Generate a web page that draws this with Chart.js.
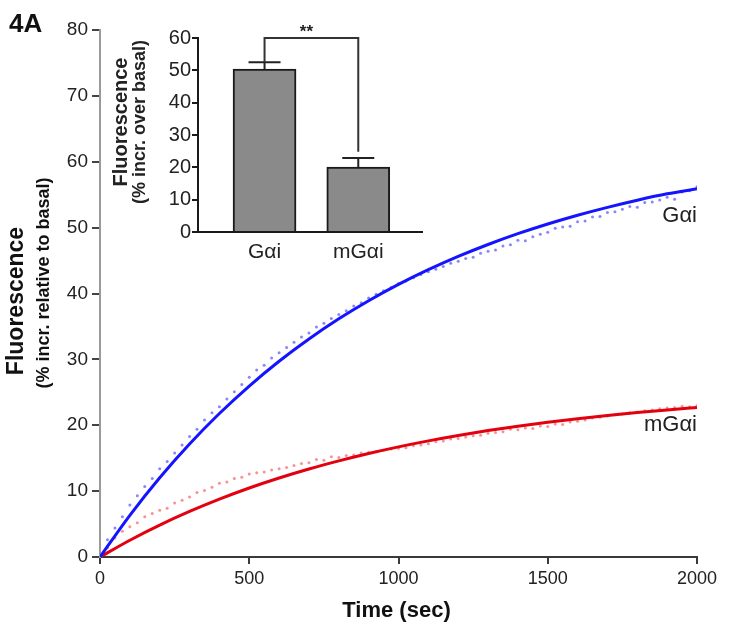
<!DOCTYPE html>
<html>
<head>
<meta charset="utf-8">
<script src="https://cdn.jsdelivr.net/npm/chart.js@4/dist/chart.umd.min.js"></script>
<style>
  body { margin: 0; background: #fff; }
  #wrap { position: relative; width: 729px; height: 636px; }
  #mainChart { position: absolute; left: 0; top: 0; }
  #insetChart { position: absolute; left: 100px; top: 0; }
</style>
</head>
<body>
<div id="wrap">
  <canvas id="mainChart" width="729" height="636"></canvas>
  <canvas id="insetChart" width="340" height="275"></canvas>
</div>
<script>
// main panel: raw readings (sec, % incr.)
const sampleTimes = [0, 25, 50, 75, 100, 125, 150, 175, 200, 225, 250, 275, 300, 325, 350, 375, 400, 425, 450, 475,
  500, 525, 550, 575, 600, 625, 650, 675, 700, 725, 750, 775, 800, 825, 850, 875, 900, 925, 950, 975,
  1000, 1025, 1050, 1075, 1100, 1125, 1150, 1175, 1200, 1225, 1250, 1275, 1300, 1325, 1350, 1375, 1400, 1425, 1450, 1475,
  1500, 1525, 1550, 1575, 1600, 1625, 1650, 1675, 1700, 1725, 1750, 1775, 1800, 1825, 1850, 1875, 1900, 1925, 1950, 1975, 2000];

const gaiPoints = [0.2, 2.6, 4.4, 6.1, 7.9, 9.3, 10.7, 11.9, 13.4, 14.5, 15.8, 17.0, 18.3, 19.4, 20.8, 21.9, 22.8, 24.0, 25.1, 26.2,
  27.3, 28.4, 29.1, 30.2, 31.0, 31.8, 32.6, 33.4, 34.0, 34.9, 35.5, 36.2, 36.8, 37.4, 38.1, 38.6, 39.3, 39.9, 40.4, 40.9,
  41.5, 41.9, 42.4, 42.9, 43.3, 43.7, 44.1, 44.6, 44.9, 45.3, 45.5, 46.1, 46.4, 46.6, 47.2, 47.4, 48.1, 48.0, 48.6, 49.0,
  49.3, 49.9, 50.1, 50.2, 50.9, 51.0, 51.6, 51.7, 52.3, 52.4, 52.8, 53.2, 53.1, 53.8, 53.9, 54.2, 54.6, 54.3, 55.4, 55.6, 56.2];

const mgaiPoints = [0.3, 1.4, 2.9, 3.9, 4.6, 5.2, 6.1, 6.6, 7.1, 7.4, 8.2, 8.6, 9.1, 9.8, 10.1, 10.6, 11.2, 11.4, 11.9, 12.1,
  12.6, 12.8, 12.9, 13.2, 13.4, 13.6, 13.9, 14.2, 14.3, 14.8, 14.7, 15.2, 15.1, 15.4, 15.5, 15.8, 15.9, 16.0, 16.2, 16.4,
  16.5, 16.6, 16.9, 17.0, 17.2, 17.5, 17.6, 17.9, 18.0, 18.2, 18.4, 18.5, 18.8, 18.9, 19.0, 19.4, 19.3, 19.6, 19.5, 19.9,
  19.8, 20.2, 20.1, 20.5, 20.6, 20.8, 21.1, 21.2, 21.4, 21.6, 21.7, 21.9, 22.0, 22.2, 22.3, 22.5, 22.6, 22.7, 22.9, 22.8, 23.0];

// fitted curves
const fitTimes = [0, 100, 200, 300, 400, 500, 600, 700, 800, 900, 1000, 1100, 1200, 1300, 1400, 1500, 1600, 1700, 1800, 1900, 2000];
const gaiFit = [0, 6.32, 12.02, 17.15, 21.78, 25.95, 29.71, 33.09, 36.15, 38.90, 41.38, 43.61, 45.63, 47.44, 49.08, 50.55, 51.88, 53.08, 54.16, 55.13, 55.9];
const mgaiFit = [0, 2.55, 4.84, 6.91, 8.78, 10.47, 11.99, 13.36, 14.59, 15.71, 16.72, 17.63, 18.45, 19.19, 19.85, 20.45, 21.00, 21.49, 21.93, 22.33, 22.69];

const mainXTicks = [0, 500, 1000, 1500, 2000];
const mainYTicks = [0, 10, 20, 30, 40, 50, 60, 70, 80];

// inset bars
const barLabels = ['Gαi', 'mGαi'];
const barMeans = [50.4, 20.1];
const barErrors = [2.1, 2.8];
const insetYTicks = [0, 10, 20, 30, 40, 50, 60];
const bracketTop = 60;
const bracketBottoms = [52.5, 24.8];
const sigText = '**';

const FONT = "'Liberation Sans', Arial, sans-serif";

function zip(xs, ys) {
  return xs.map((x, i) => ({ x: x, y: ys[i] }));
}

// texts around the main plot
const mainTexts = {
  id: 'mainTexts',
  afterDraw(chart) {
    const ctx = chart.ctx;
    const xs = chart.scales.x, ys = chart.scales.y;
    ctx.save();
    ctx.fillStyle = '#111';
    ctx.textBaseline = 'alphabetic';
    ctx.textAlign = 'left';
    ctx.font = 'bold 26px ' + FONT;
    ctx.fillText('4A', 9, 32);

    ctx.textAlign = 'center';
    ctx.textBaseline = 'middle';
    ctx.font = 'bold 22px ' + FONT;
    ctx.fillText('Time (sec)', (xs.left + xs.right) / 2 - 2, 611);

    ctx.save();
    ctx.translate(17, 301);
    ctx.rotate(-Math.PI / 2);
    ctx.font = 'bold 23px ' + FONT;
    ctx.fillText('Fluorescence', 0, 0);
    ctx.restore();
    ctx.save();
    ctx.translate(44, 283);
    ctx.rotate(-Math.PI / 2);
    ctx.font = 'bold 18px ' + FONT;
    ctx.fillText('(% incr. relative to basal)', 0, 0);
    ctx.restore();

    ctx.textAlign = 'right';
    ctx.font = '22px ' + FONT;
    ctx.fillStyle = '#222';
    ctx.fillText('Gαi', xs.getPixelForValue(2000), ys.getPixelForValue(51.8));
    ctx.fillText('mGαi', xs.getPixelForValue(2000), ys.getPixelForValue(20.1));
    ctx.restore();
  }
};

new Chart(document.getElementById('mainChart'), {
  type: 'scatter',
  data: {
    datasets: [
      {
        label: 'Gαi fit',
        data: zip(fitTimes, gaiFit),
        showLine: true,
        borderColor: '#1414ff',
        borderWidth: 3,
        pointRadius: 0,
        cubicInterpolationMode: 'monotone'
      },
      {
        label: 'mGαi fit',
        data: zip(fitTimes, mgaiFit),
        showLine: true,
        borderColor: '#e3000f',
        borderWidth: 3,
        pointRadius: 0,
        cubicInterpolationMode: 'monotone'
      },
      {
        label: 'Gαi',
        data: zip(sampleTimes, gaiPoints),
        pointRadius: 1.5,
        borderWidth: 0,
        backgroundColor: 'rgba(95,95,250,0.75)'
      },
      {
        label: 'mGαi',
        data: zip(sampleTimes, mgaiPoints),
        pointRadius: 1.5,
        borderWidth: 0,
        backgroundColor: 'rgba(245,110,110,0.75)'
      }
    ]
  },
  options: {
    responsive: false,
    animation: false,
    devicePixelRatio: 1,
    layout: { padding: { left: 0, top: 30, right: 32, bottom: 0 } },
    plugins: { legend: { display: false }, tooltip: { enabled: false } },
    scales: {
      x: {
        type: 'linear',
        min: 0,
        max: 2000,
        afterBuildTicks: s => { s.ticks = mainXTicks.map(v => ({ value: v })); },
        afterFit: s => { s.height = 79; },
        border: { display: true, color: '#3a3a3a', width: 2 },
        grid: { drawOnChartArea: false, drawTicks: true, tickLength: 7, color: '#3a3a3a', lineWidth: 2 },
        ticks: { font: { family: FONT, size: 18 }, color: '#222', padding: 4, maxRotation: 0, callback: v => String(v) }
      },
      y: {
        min: 0,
        max: 80,
        afterBuildTicks: s => { s.ticks = mainYTicks.map(v => ({ value: v })); },
        afterFit: s => { s.width = 100; },
        border: { display: true, color: '#9a9a9a', width: 2 },
        grid: { drawOnChartArea: false, drawTicks: true, tickLength: 8, color: '#444', lineWidth: 2 },
        ticks: { font: { family: FONT, size: 19 }, color: '#222', padding: 4 }
      }
    }
  },
  plugins: [mainTexts]
});

// inset: error bars, significance bracket and y title
const insetExtras = {
  id: 'insetExtras',
  afterDatasetsDraw(chart) {
    const ctx = chart.ctx;
    const xs = chart.scales.x, ys = chart.scales.y;
    ctx.save();
    ctx.strokeStyle = '#222';
    ctx.lineWidth = 2;
    barMeans.forEach((m, i) => {
      const cx = xs.getPixelForValue(i + 1);
      const top = ys.getPixelForValue(m + barErrors[i]);
      ctx.beginPath();
      ctx.moveTo(cx, ys.getPixelForValue(m));
      ctx.lineTo(cx, top);
      ctx.moveTo(cx - 16, top);
      ctx.lineTo(cx + 16, top);
      ctx.stroke();
    });
    const x1 = xs.getPixelForValue(1), x2 = xs.getPixelForValue(2);
    const yb = ys.getPixelForValue(bracketTop);
    ctx.strokeStyle = '#333';
    ctx.beginPath();
    ctx.moveTo(x1, ys.getPixelForValue(bracketBottoms[0]));
    ctx.lineTo(x1, yb);
    ctx.lineTo(x2, yb);
    ctx.lineTo(x2, ys.getPixelForValue(bracketBottoms[1]));
    ctx.stroke();
    ctx.fillStyle = '#222';
    ctx.font = 'bold 17px ' + FONT;
    ctx.textAlign = 'center';
    ctx.textBaseline = 'bottom';
    ctx.fillText(sigText, (x1 + x2) / 2 - 5, yb + 3);

    ctx.textBaseline = 'middle';
    ctx.save();
    ctx.translate(21, 122);
    ctx.rotate(-Math.PI / 2);
    ctx.font = 'bold 20px ' + FONT;
    ctx.fillText('Fluorescence', 0, 0);
    ctx.restore();
    ctx.save();
    ctx.translate(40, 122);
    ctx.rotate(-Math.PI / 2);
    ctx.font = 'bold 18px ' + FONT;
    ctx.fillText('(% incr. over basal)', 0, 0);
    ctx.restore();
    ctx.restore();
  }
};

new Chart(document.getElementById('insetChart'), {
  type: 'bar',
  data: {
    datasets: [{
      data: barMeans.map((m, i) => ({ x: i + 1, y: m })),
      backgroundColor: '#8a8a8a',
      borderColor: '#1a1a1a',
      borderWidth: 2,
      borderSkipped: 'bottom',
      barThickness: 63
    }]
  },
  options: {
    responsive: false,
    animation: false,
    devicePixelRatio: 1,
    layout: { padding: { left: 0, top: 38, right: 18, bottom: 0 } },
    plugins: { legend: { display: false }, tooltip: { enabled: false } },
    scales: {
      x: {
        type: 'linear',
        offset: false,
        min: 0.29,
        max: 2.68,
        afterBuildTicks: s => { s.ticks = barLabels.map((l, i) => ({ value: i + 1 })); },
        afterFit: s => { s.height = 43; },
        border: { display: true, color: '#1a1a1a', width: 2 },
        grid: { display: false, offset: false },
        ticks: {
          font: { family: FONT, size: 21 },
          color: '#222',
          padding: 0,
          maxRotation: 0,
          callback: v => barLabels[v - 1]
        }
      },
      y: {
        min: 0,
        max: 60,
        afterBuildTicks: s => { s.ticks = insetYTicks.map(v => ({ value: v })); },
        afterFit: s => { s.width = 98; },
        border: { display: true, color: '#1a1a1a', width: 2 },
        grid: { drawOnChartArea: false, drawTicks: true, tickLength: 6, color: '#1a1a1a', lineWidth: 2 },
        ticks: { font: { family: FONT, size: 20 }, color: '#222', padding: 1 }
      }
    }
  },
  plugins: [insetExtras]
});
</script>
</body>
</html>
